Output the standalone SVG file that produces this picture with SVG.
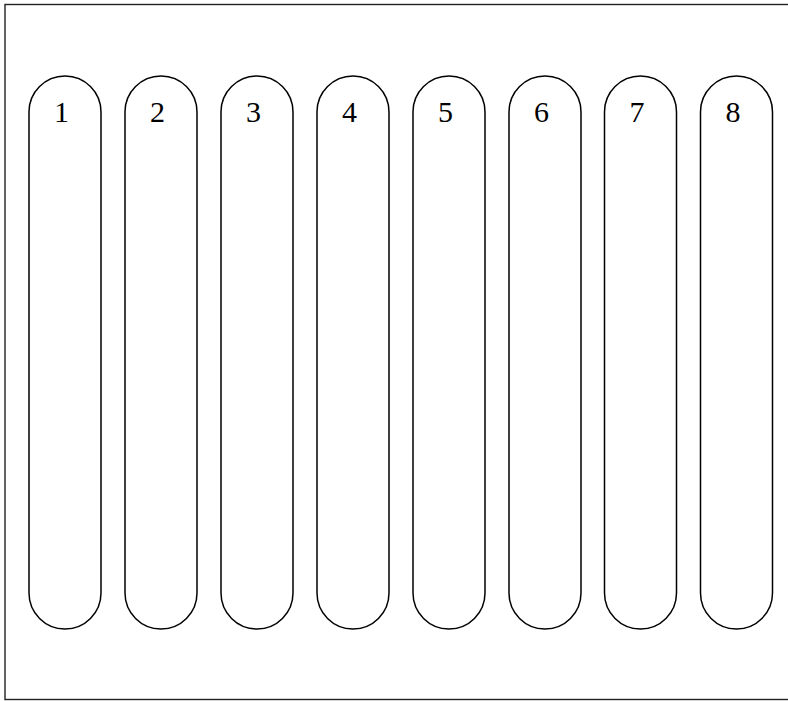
<svg xmlns="http://www.w3.org/2000/svg" width="788" height="701" viewBox="0 0 788 701">
<style>
.frame{fill:#fff;stroke:#222;stroke-width:1.4}
.pill{fill:#fff;stroke:#000;stroke-width:1.5}
.lbl{font-family:"Liberation Serif","Times New Roman",serif;font-size:30px;fill:#000;text-anchor:middle}
</style>
<rect class="frame" x="5" y="4.5" width="800" height="695"/>
<g id="lane1"><rect class="pill" x="29" y="76" width="72" height="553" rx="36" ry="36"/><text class="lbl" x="61.5" y="121.5">1</text></g>
<g id="lane2"><rect class="pill" x="125" y="76" width="72" height="553" rx="36" ry="36"/><text class="lbl" x="157.5" y="121.5">2</text></g>
<g id="lane3"><rect class="pill" x="221" y="76" width="72" height="553" rx="36" ry="36"/><text class="lbl" x="253.5" y="121.5">3</text></g>
<g id="lane4"><rect class="pill" x="317" y="76" width="72" height="553" rx="36" ry="36"/><text class="lbl" x="349.5" y="121.5">4</text></g>
<g id="lane5"><rect class="pill" x="413" y="76" width="72" height="553" rx="36" ry="36"/><text class="lbl" x="445.5" y="121.5">5</text></g>
<g id="lane6"><rect class="pill" x="509" y="76" width="72" height="553" rx="36" ry="36"/><text class="lbl" x="541.5" y="121.5">6</text></g>
<g id="lane7"><rect class="pill" x="604.5" y="76" width="72" height="553" rx="36" ry="36"/><text class="lbl" x="637" y="121.5">7</text></g>
<g id="lane8"><rect class="pill" x="700.5" y="76" width="72" height="553" rx="36" ry="36"/><text class="lbl" x="733" y="121.5">8</text></g>
<g id="connectors"></g>
</svg>
